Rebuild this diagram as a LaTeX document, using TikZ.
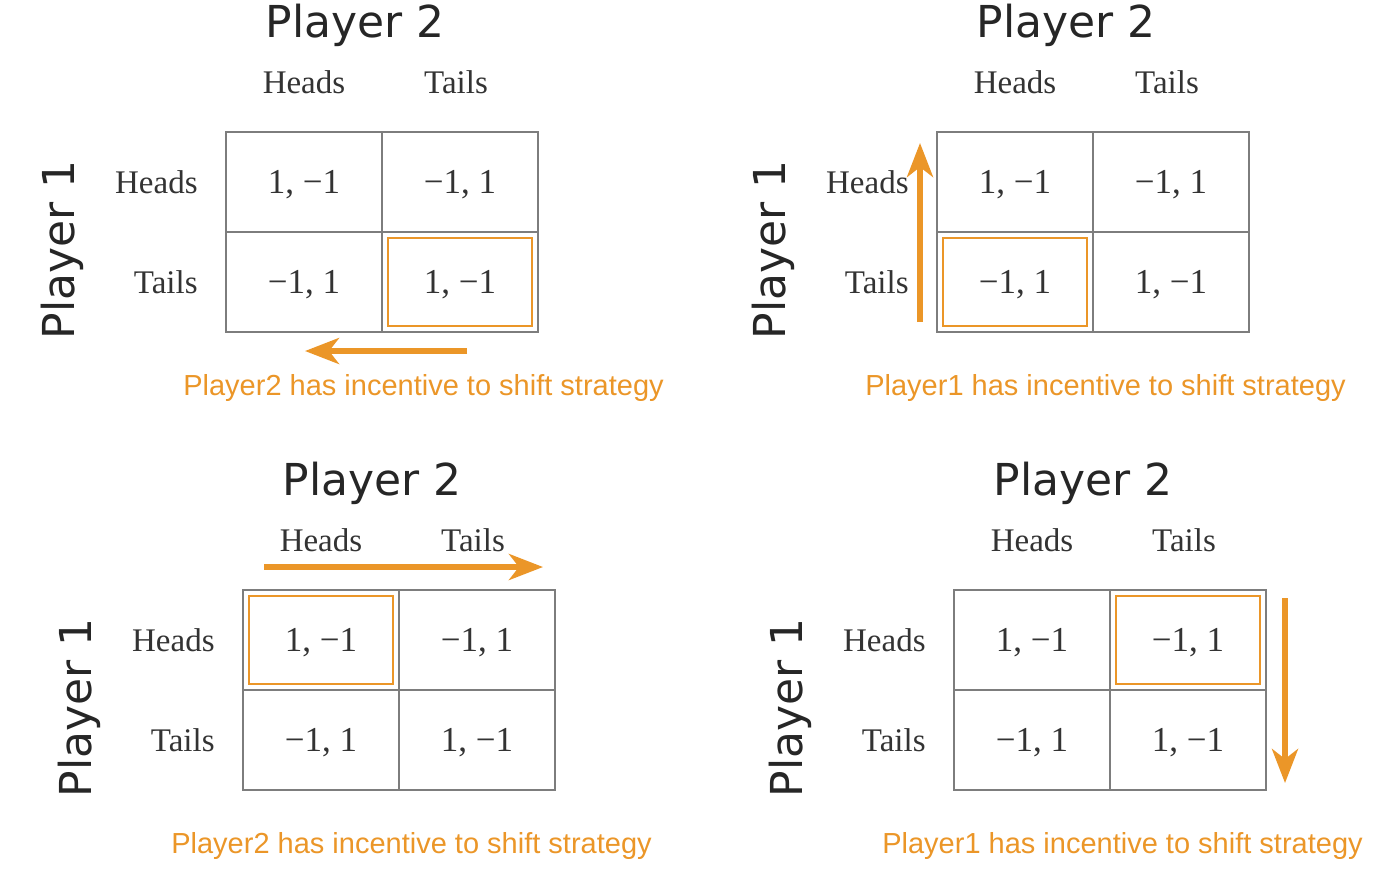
\documentclass[tikz,border=0pt]{standalone}
\usepackage{fontspec}
\usepackage{xcolor}
\usetikzlibrary{positioning,arrows.meta}
\newfontfamily\capfont{Liberation Sans}
\newfontfamily\tabfont{Liberation Serif}
\newfontfamily\plfont{DejaVu Sans}
\definecolor{shiftorange}{RGB}{235,150,40}
\definecolor{gridgray}{RGB}{125,125,125}
\tikzset{
  cell/.style={draw=gridgray,line width=1pt,outer sep=0pt,inner sep=0pt,text depth=0pt,
    minimum width=78pt,minimum height=50pt,font=\tabfont\fontsize{17.5}{17.5}\selectfont,text=black!80},
  lab/.style={inner sep=0pt,font=\tabfont\fontsize{16.5}{16.5}\selectfont,text=black!80},
  player/.style={inner sep=0pt,font=\plfont\fontsize{22}{22}\selectfont,text=black!85},
  hl/.style={draw=shiftorange,line width=1pt,minimum width=72pt,minimum height=44pt},
  shiftarrow/.style={draw=shiftorange,line width=2.8pt,-{Stealth[length=17pt,width=13pt,inset=5pt]}},
  note/.style={inner sep=0pt,font=\capfont\fontsize{14.5}{14.5}\selectfont,text=shiftorange}
}

\begin{document}
\begin{tikzpicture}[x=0.5pt,y=-0.5pt]
\useasboundingbox (0,0) rectangle (1400,874);
% the four payoff tables
\foreach \n/\gx/\gy in {1/226/132,2/937/132,3/243/590,4/954/590}{
  \node[cell] (c11-\n) at (\gx+78,\gy+50) {1, −1};
  \node[cell,right=0pt of c11-\n] (c12-\n) {−1, 1};
  \node[cell,below=0pt of c11-\n] (c21-\n) {−1, 1};
  \node[cell,right=0pt of c21-\n] (c22-\n) {1, −1};
  \node[lab,above=25pt of c11-\n.north,anchor=center] (ch-\n) {Heads};
  \node[lab,above=25pt of c12-\n.north,anchor=center,xshift=-2pt] (ct-\n) {Tails};
  \node[lab,left=14pt of c11-\n] (rh-\n) {Heads};
  \node[lab,left=14pt of c21-\n] (rt-\n) {Tails};
  \node[player] (p2-\n) at (\gx+129,\gy-107) {Player 2};
  \node[player,rotate=90] (p1-\n) at (\gx-164,\gy+118) {Player 1};
}
% highlighted outcome
\node[hl] (h1) at (c22-1) {};
\node[hl] (h2) at (c21-2) {};
\node[hl] (h3) at (c11-3) {};
\node[hl] (h4) at (c12-4) {};
% shifts
\coordinate (s1) at (467,351);
\coordinate (e1) at (305,351);
\coordinate (s2) at (920,322);
\coordinate (e2) at (920,143);
\coordinate (s3) at (264,567);
\coordinate (e3) at (543,567);
\coordinate (s4) at (1285,598);
\coordinate (e4) at (1285,783);
\draw[shiftarrow] (s1) -- (e1);
\draw[shiftarrow] (s2) -- (e2);
\draw[shiftarrow] (s3) -- (e3);
\draw[shiftarrow] (s4) -- (e4);
\node[note] (n1) at (423.5,388) {Player2 has incentive to shift strategy};
\node[note] (n2) at (1105.5,388) {Player1 has incentive to shift strategy};
\node[note] (n3) at (411.5,846) {Player2 has incentive to shift strategy};
\node[note] (n4) at (1122.5,846) {Player1 has incentive to shift strategy};
\end{tikzpicture}
\end{document}
